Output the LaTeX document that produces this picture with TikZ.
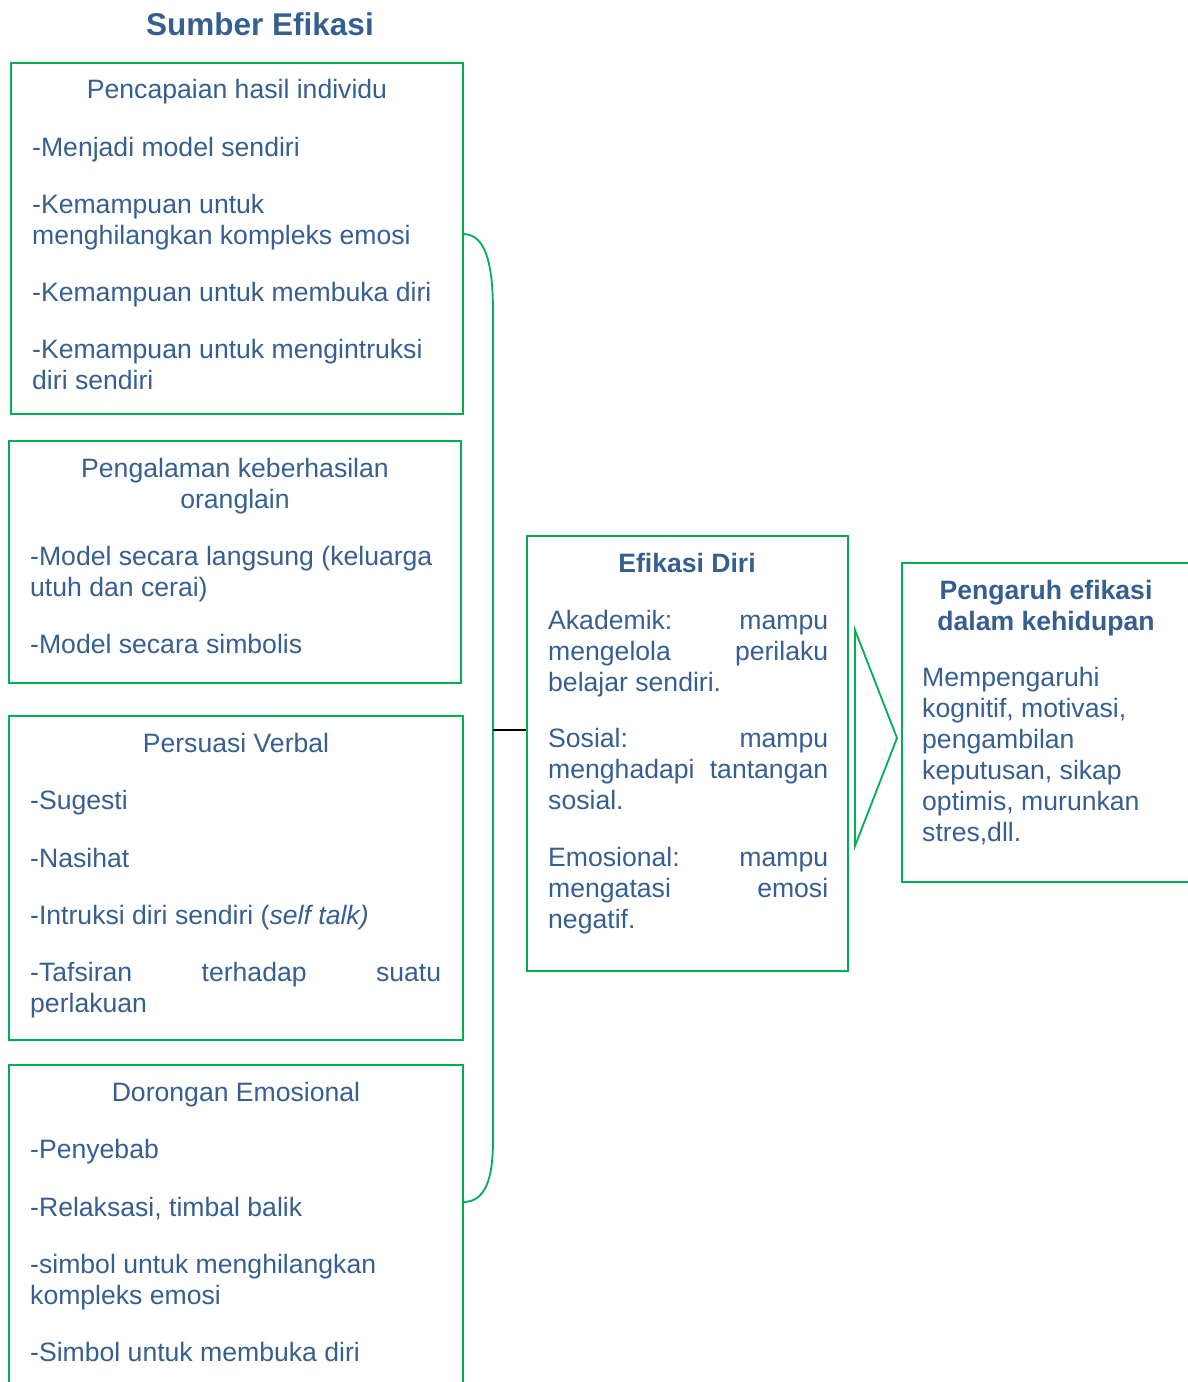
\documentclass[tikz,border=0pt]{standalone}
\usepackage{fontspec}
\setmainfont{Liberation Sans}
\usetikzlibrary{fit}
\definecolor{tblue}{RGB}{54,95,145}
\definecolor{tgreen}{RGB}{0,176,80}
\begin{document}
\begin{tikzpicture}[x=1pt,y=-1pt,
  box/.style={draw=tgreen,line width=1.8pt,inner sep=0pt},
  txt/.style={text=tblue,font=\fontsize{26.6}{31}\selectfont,inner sep=0pt,anchor=base west,align=left},
  ctxt/.style={txt,anchor=base,align=center},
  btxt/.style={ctxt,font=\fontsize{26.6}{31}\selectfont\bfseries},
  ttl/.style={ctxt,font=\fontsize{31.5}{36}\selectfont\bfseries},
  gline/.style={draw=tgreen,line width=1.8pt},
  kline/.style={draw=black,line width=1.8pt}]
\useasboundingbox (0,0) rectangle (1188,1382);

% title
\node[ttl] (title) at (260,35) {Sumber Efikasi};

% box 1
\coordinate (b1nw) at (11,63); \coordinate (b1se) at (463,414);
\node[box,fit=(b1nw)(b1se)] (b1) {};
\node[ctxt] (b1h) at (237,98) {Pencapaian hasil individu};
\node[txt] (b1a) at (32,156) {-Menjadi model sendiri};
\node[txt] (b1b) at (32,244) {-Kemampuan untuk\\menghilangkan kompleks emosi};
\node[txt] (b1c) at (32,301) {-Kemampuan untuk membuka diri};
\node[txt] (b1d) at (32,389) {-Kemampuan untuk mengintruksi\\diri sendiri};

% box 2
\coordinate (b2nw) at (9,441); \coordinate (b2se) at (461,683);
\node[box,fit=(b2nw)(b2se)] (b2) {};
\node[ctxt] (b2h) at (235,508) {Pengalaman keberhasilan\\oranglain};
\node[txt] (b2a) at (30,596) {-Model secara langsung (keluarga\\utuh dan cerai)};
\node[txt] (b2b) at (30,653) {-Model secara simbolis};

% box 3
\coordinate (b3nw) at (9,716); \coordinate (b3se) at (463,1040);
\node[box,fit=(b3nw)(b3se)] (b3) {};
\node[ctxt] (b3h) at (236,752) {Persuasi Verbal};
\node[txt] (b3a) at (30,809) {-Sugesti};
\node[txt] (b3b) at (30,867) {-Nasihat};
\node[txt] (b3c) at (30,924) {-Intruksi diri sendiri (\textit{self talk)}};
\node[txt] (b3d) at (30,1012) {\makebox[411pt]{-Tafsiran\hfill terhadap\hfill suatu}\\perlakuan};

% box 4
\coordinate (b4nw) at (9,1065); \coordinate (b4se) at (463,1400);
\node[box,fit=(b4nw)(b4se)] (b4) {};
\node[ctxt] (b4h) at (236,1101) {Dorongan Emosional};
\node[txt] (b4a) at (30,1158) {-Penyebab};
\node[txt] (b4b) at (30,1216) {-Relaksasi, timbal balik};
\node[txt] (b4c) at (30,1304) {-simbol untuk menghilangkan\\kompleks emosi};
\node[txt] (b4d) at (30,1361) {-Simbol untuk membuka diri};

% efikasi diri
\coordinate (efnw) at (527,536); \coordinate (efse) at (848,971);
\node[box,fit=(efnw)(efse)] (ef) {};
\node[btxt] (efh) at (687,572) {Efikasi Diri};
\node[txt] (efa) at (548,691) {\makebox[280pt]{Akademik:\hfill mampu}\\\makebox[280pt]{mengelola\hfill perilaku}\\belajar sendiri.};
\node[txt] (efb) at (548,809) {\makebox[280pt]{Sosial:\hfill mampu}\\\makebox[280pt]{menghadapi\hfill tantangan}\\sosial.};
\node[txt] (efc) at (548,928) {\makebox[280pt]{Emosional:\hfill mampu}\\\makebox[280pt]{mengatasi\hfill emosi}\\negatif.};

% pengaruh
\coordinate (penw) at (902,563); \coordinate (pese) at (1200,882);
\node[box,fit=(penw)(pese)] (pe) {};
\node[btxt] (peh) at (1046,630) {Pengaruh efikasi\\dalam kehidupan};
\node[txt] (pea) at (922,841) {Mempengaruhi\\kognitif, motivasi,\\pengambilan\\keputusan, sikap\\optimis, murunkan\\stres,dll.};

% brace
\coordinate (bt) at (463,234);
\coordinate (bb) at (463,1202);
\coordinate (bm) at (493,730);
\draw[gline] (bt) .. controls (485,234) and (493,262) .. (493,312)
  -- (493,1140) .. controls (493,1180) and (485,1202) .. (bb);
\draw[kline] (bm) -- (ef.west |- bm);

% arrow
\coordinate (at) at (855,630);
\coordinate (ap) at (897,738);
\coordinate (ab) at (855,846);
\draw[gline,line join=miter] (at) -- (ap) -- (ab) -- cycle;
\end{tikzpicture}
\end{document}
